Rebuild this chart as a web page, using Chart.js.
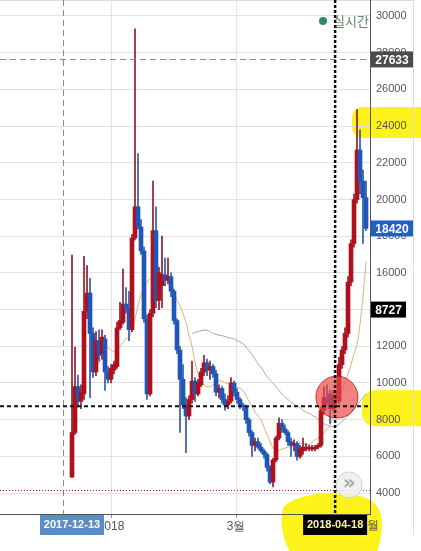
<!DOCTYPE html>
<html>
<head>
<meta charset="utf-8">
<script src="https://cdn.jsdelivr.net/npm/chart.js@4.4.1/dist/chart.umd.min.js"></script>
<style>
    html, body { margin: 0; padding: 0; background: #fff; }
    #wrap { width: 421px; height: 551px; position: relative; }
</style>
</head>
<body>
<div id="wrap"><canvas id="c"></canvas></div>
<script>
// 일봉 (candle index 0 = 2017-12-13)
var openP = [4870,7300,9800,9000,9400,13900,14900,12700,10600,12300,
    11600,12400,10600,10200,10700,10900,13000,13300,14300,14100,
    12900,17900,19600,18500,17200,13500,9400,13800,18300,14500,
    15300,15900,15600,15800,15000,13400,11800,10200,8800,8200,
    9100,10100,9400,9900,10600,11100,10700,10900,10500,9500,
    9700,9100,8800,9000,10000,9500,9100,8800,8700,8000,
    7300,6600,6800,6500,6300,6100,5400,4600,5800,7000,
    7800,7500,7300,6800,6600,6700,6000,6300,6400,6400,
    6400,6400,6500,6600,8500,9200,9400,8600,9300,9000,
    11000,11800,12700,15500,17600,20000,22700,21000,20100];
var highP = [16970,11960,10430,9900,16900,16400,15700,13000,12800,12900,
    12900,12600,10900,11000,11200,13300,14400,16200,15200,15000,
    18100,29300,22500,18900,17400,13700,14000,21000,19600,16300,
    18000,16800,16800,16000,15100,13500,12000,11000,9200,9300,
    11200,10300,10200,10800,11500,11300,11200,11000,10700,9900,
    9800,9400,9300,10300,10100,9700,9200,8900,8800,8100,
    7400,7000,7000,6700,6400,6200,5500,5900,7100,8100,
    8000,7700,7400,7000,6900,6800,6600,7000,6700,6600,
    6600,6600,6700,8700,9800,9900,9600,9600,9500,11400,
    12000,13000,15800,17800,20300,24900,23800,21600,21000];
var lowP = [4870,7200,8700,8600,9100,13500,9200,10300,10400,11200,
    11300,9600,10000,10000,10500,10800,12900,13200,13800,12300,
    12800,17800,18400,17000,13300,9100,9300,13600,14100,14000,
    14100,15300,15400,14700,13200,11600,7300,8600,6200,8000,
    8900,9000,9300,9800,10400,10400,10200,10300,9300,9200,
    8900,8500,8600,8900,9300,8900,8600,8500,7800,7100,
    6000,6300,6400,6200,5900,5200,4500,4330,5700,6900,
    7300,7200,6600,6000,6300,5800,5900,6100,6300,6300,
    6300,6300,6400,6500,8300,8800,7800,8500,8800,8900,
    10800,11600,12500,15300,17400,19800,20300,17600,18300];
var closeP = [7300,9800,9000,9500,13900,14900,12700,10600,12300,11500,
    12500,10600,10200,10800,11000,13000,13400,14300,14100,12900,
    17900,19600,18500,17200,13500,9400,13800,18300,14500,16000,
    15900,15600,15800,15000,13400,11800,10200,8800,8200,9100,
    10100,9400,10000,10600,11100,10700,10900,10500,9500,9700,
    9100,8800,9000,10000,9500,9100,8800,8700,8000,7300,
    6600,6800,6500,6300,6100,5400,4600,5800,7000,7800,
    7500,7300,6800,6600,6700,6000,6400,6500,6500,6500,
    6500,6500,6600,8500,9200,9000,8600,9300,9000,11000,
    11800,12700,15500,17600,20000,22700,21000,20100,18420];

// 이동평균선
var maShort = new Array(8).fill(null).concat([
    10900,11100,11400,11800,11900,11800,11700,11800,12000,12200,
    12400,12500,12900,13500,14200,14800,15200,15500,15700,15800,
    15800,15800,15700,15600,15600,15500,15000,14500,14200,13800,
    13300,12600,12000,11100,10500,10100,9900,9800,9800,9900,
    10000,10150,10100,10000,10000,10000,9900,9800,9700,9600,
    9300,9000,8700,8400,8200,8000,7600,7200,6800,6450,
    6350,6340,6400,6450,6500,6550,6600,6700,6730,6700,
    6650,6650,6750,6900,7000,7100,7300,7500,7700,8100,
    8700,9200,9600,10000,10500,11000,11600,12100,13200,14700,
    16600]);
var maLong = new Array(40).fill(null).concat([
    12700,12750,12800,12850,12880,12880,12800,12700,12650,12600,
    12580,12520,12480,12450,12400,12300,12230,12150,11950,11750,
    11550,11300,11050,10850,10600,10350,10150,9990,9800,9600,
    9400,9250,9100,8950,8850,8750,8650,8500,8420,8350,
    8250,8150,8050,7900,7780,7700,7650,7620,7650,7750,
    7900,8050,8200,8400,8600,8800,9000,9200,9400]);

var yTicks = [4000,6000,8000,10000,12000,14000,16000,18000,20000,22000,24000,26000,28000,30000];
var monthIdx = [13, 54.67, 99];          // 2018-01-01, 3월, 5월 (candle index)
var monthText = ['2018', '3월', '5월'];

var firstDate = '2017-12-13';
var crossDate = '2018-04-18', crossIdx = 87.7, crossPrice = 8727;
var lastPrice = 18420, topPrice = 27633, lowPrice = 4160;
var volTag = 8727, volTagAt = 14000;
var markIdx = -3;

var upC = '#b0101c', downC = '#1f57b8';
var upWick = '#8e1b2e', downWick = '#2b5aa8';

var wickData = [], bodyData = [], wickCol = [], bodyCol = [];
for (var i = 0; i < openP.length; i++) {
    var up = closeP[i] >= openP[i];
    wickData.push({x: i, y: [lowP[i], highP[i]]});
    bodyData.push({x: i, y: [openP[i], closeP[i]]});
    wickCol.push(up ? upWick : downWick);
    bodyCol.push(up ? upC : downC);
}

function tag(ctx, x, yc, w, bg, fg, text) {
    ctx.fillStyle = bg;
    ctx.fillRect(x, yc - 8, w, 16);
    ctx.fillStyle = fg;
    ctx.font = 'bold 12px "Liberation Sans", Arial, sans-serif';
    ctx.textAlign = 'center';
    ctx.textBaseline = 'middle';
    ctx.fillText(text, x + w / 2, yc + 1);
}

var marks = {
    id: 'marks',
    beforeDraw: function (chart) {
        var ctx = chart.ctx, xs = chart.scales.x, ys = chart.scales.y, a = chart.chartArea;
        ctx.save();
        ctx.fillStyle = '#fff';
        ctx.fillRect(0, 0, chart.width, chart.height);
        // 형광펜
        ctx.fillStyle = '#fbf31a';
        var y1 = ys.getPixelForValue(24000);
        ctx.beginPath(); ctx.roundRect(a.right - 18, y1 - 19, 80, 31, 11); ctx.fill();
        var y2 = ys.getPixelForValue(crossPrice);
        ctx.beginPath(); ctx.roundRect(a.right - 8, y2 - 16, 70, 36, 13); ctx.fill();
        var cx = xs.getPixelForValue(crossIdx), b = a.bottom;
        ctx.beginPath();
        ctx.moveTo(cx - 51, b - 8);
        ctx.bezierCurveTo(cx - 30, b - 25, cx + 22, b - 24, cx + 38, b - 12);
        ctx.bezierCurveTo(cx + 50, b - 2, cx + 48, b + 22, cx + 42, b + 37);
        ctx.lineTo(cx - 46, b + 37);
        ctx.bezierCurveTo(cx - 54, b + 20, cx - 56, b + 2, cx - 51, b - 8);
        ctx.fill();
        // 테두리
        ctx.strokeStyle = '#dcdcdc';
        ctx.lineWidth = 1;
        ctx.beginPath();
        ctx.moveTo(0, 0.5); ctx.lineTo(a.right + 43, 0.5);
        ctx.moveTo(a.right + 43.5, 0); ctx.lineTo(a.right + 43.5, b + 21);
        ctx.stroke();
        ctx.restore();
    },
    afterDatasetsDraw: function (chart) {
        var ctx = chart.ctx, xs = chart.scales.x, ys = chart.scales.y, a = chart.chartArea;
        ctx.save();
        // 실시간
        ctx.fillStyle = '#2f8a5e';
        ctx.beginPath(); ctx.arc(a.right - 47, 21, 4, 0, Math.PI * 2); ctx.fill();
        ctx.fillStyle = '#5d8b70';
        ctx.font = '13px "Noto Sans CJK KR", sans-serif';
        ctx.textAlign = 'left'; ctx.textBaseline = 'middle';
        ctx.fillText('실시간', a.right - 37, 21);

        ctx.lineWidth = 1;
        ctx.strokeStyle = '#8a8a8a';
        ctx.setLineDash([6, 4]);
        var yt = Math.round(ys.getPixelForValue(topPrice)) + 0.5;
        ctx.beginPath(); ctx.moveTo(a.left, yt); ctx.lineTo(a.right, yt); ctx.stroke();
        var xm = Math.round(xs.getPixelForValue(markIdx)) + 0.5;
        ctx.beginPath(); ctx.moveTo(xm, a.top); ctx.lineTo(xm, a.bottom); ctx.stroke();

        ctx.strokeStyle = '#b02a2a';
        ctx.setLineDash([1, 2]);
        var yl = Math.round(ys.getPixelForValue(lowPrice)) + 0.5;
        ctx.beginPath(); ctx.moveTo(a.left, yl); ctx.lineTo(a.right, yl); ctx.stroke();

        // 빨간 원
        var rx = xs.getPixelForValue(88.3), ry = ys.getPixelForValue(9230);
        ctx.setLineDash([]);
        ctx.fillStyle = 'rgba(238, 70, 70, 0.68)';
        ctx.strokeStyle = 'rgba(170, 30, 30, 0.8)';
        ctx.beginPath(); ctx.arc(rx, ry, 21, 0, Math.PI * 2); ctx.fill(); ctx.stroke();

        // 크로스헤어
        ctx.strokeStyle = '#111';
        ctx.lineWidth = 2.5;
        ctx.setLineDash([3, 2]);
        var cx = xs.getPixelForValue(crossIdx);
        ctx.beginPath(); ctx.moveTo(cx, a.top); ctx.lineTo(cx, a.bottom + 2); ctx.stroke();
        ctx.lineWidth = 2;
        ctx.setLineDash([4, 3]);
        var cy = ys.getPixelForValue(crossPrice);
        ctx.beginPath(); ctx.moveTo(a.left, cy); ctx.lineTo(a.right, cy); ctx.stroke();
        ctx.restore();
    },
    afterDraw: function (chart) {
        var ctx = chart.ctx, xs = chart.scales.x, ys = chart.scales.y, a = chart.chartArea;
        ctx.save();
        tag(ctx, a.right + 1, ys.getPixelForValue(topPrice), 42, '#4b4b4b', '#fff', String(topPrice));
        tag(ctx, a.right + 1, ys.getPixelForValue(lastPrice), 42, '#1e60c6', '#fff', String(lastPrice));
        tag(ctx, a.right + 1, ys.getPixelForValue(volTagAt), 35, '#000', '#fff', String(volTag));

        // 5월 (mostly hidden)
        ctx.font = '12px "Liberation Sans", Arial, sans-serif';
        ctx.textAlign = 'center'; ctx.textBaseline = 'middle';
        ctx.fillStyle = '#555';
        ctx.fillText(monthText[2], xs.getPixelForValue(monthIdx[2]) + 1, a.bottom + 12);

        // 날짜 박스
        ctx.font = 'bold 11px "Liberation Sans", Arial, sans-serif';
        var fx = xs.getPixelForValue(0);
        ctx.fillStyle = '#5b8dc8';
        ctx.fillRect(fx - 32, a.bottom + 1, 64, 20);
        ctx.fillStyle = '#fff';
        ctx.fillText(firstDate, fx, a.bottom + 11);
        var cx = xs.getPixelForValue(crossIdx);
        ctx.fillStyle = '#000';
        ctx.fillRect(cx - 32, a.bottom + 1, 64, 20);
        ctx.fillStyle = '#fdf5a6';
        ctx.fillText(crossDate, cx, a.bottom + 11);

        // » 버튼
        var bx = cx + 14, by = a.bottom - 29;
        ctx.fillStyle = 'rgba(238, 238, 238, 0.85)';
        ctx.strokeStyle = '#d2d2d2';
        ctx.lineWidth = 1;
        ctx.beginPath(); ctx.arc(bx, by, 13, 0, Math.PI * 2); ctx.fill(); ctx.stroke();
        ctx.fillStyle = '#ababab';
        ctx.font = 'bold 20px "DejaVu Sans", sans-serif';
        ctx.fillText('»', bx, by - 1);
        ctx.restore();
    }
};

Chart.defaults.font.family = '"Liberation Sans", Arial, sans-serif';

var ctx = document.getElementById('c');
var chart = new Chart(ctx, {
    type: 'bar',
    data: {
        datasets: [
            {type: 'line', data: maShort.map(function (v, i) { return {x: i, y: v}; }),
                borderColor: '#d9b47c', borderWidth: 1, pointRadius: 0, tension: 0.3, order: 4},
            {type: 'line', data: maLong.map(function (v, i) { return {x: i, y: v}; }),
                borderColor: '#a3abb4', borderWidth: 1, pointRadius: 0, tension: 0.3, order: 3},
            {data: wickData, backgroundColor: wickCol, barThickness: 1, grouped: false, order: 2},
            {data: bodyData, backgroundColor: bodyCol, barThickness: 4, grouped: false, order: 1}
        ]
    },
    options: {
        responsive: true,
        maintainAspectRatio: false,
        animation: false,
        layout: {padding: 0},
        plugins: {legend: {display: false}, tooltip: {enabled: false}},
        scales: {
            x: {
                type: 'linear',
                min: -24,
                max: 99.33,
                offset: false,
                grid: {offset: false, color: '#e2e2e2', tickColor: '#999', tickLength: 4},
                border: {color: '#555'},
                ticks: {
                    color: '#555', font: {size: 12}, padding: 1, maxRotation: 0,
                    callback: function (v) {
                        var k = monthIdx.indexOf(v);
                        return k >= 0 ? monthText[k] : '';
                    }
                },
                afterBuildTicks: function (s) {
                    s.ticks = monthIdx.slice(0, 2).map(function (v) { return {value: v}; });
                },
                afterFit: function (s) {
                    s.height = 37; s.paddingLeft = 0; s.paddingRight = 0;
                }
            },
            y: {
                type: 'linear',
                position: 'right',
                min: 2860,
                max: 30870,
                grid: {color: '#e2e2e2', drawTicks: false},
                border: {color: '#555'},
                ticks: {
                    color: '#555', font: {size: 11}, padding: 6,
                    callback: function (v) { return String(v); }
                },
                afterBuildTicks: function (s) {
                    s.ticks = yTicks.map(function (v) { return {value: v}; });
                },
                afterFit: function (s) {
                    s.width = 51; s.paddingTop = 0; s.paddingBottom = 0;
                }
            }
        }
    },
    plugins: [marks]
});
</script>
</body>
</html>
